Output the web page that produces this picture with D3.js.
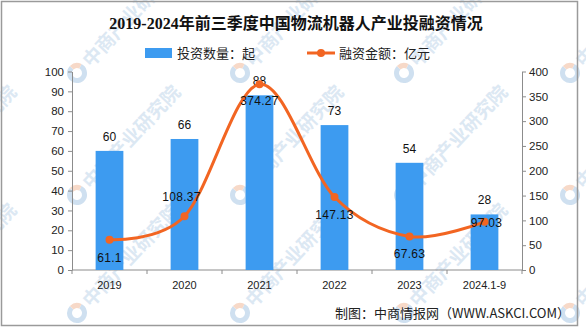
<!DOCTYPE html>
<html>
<head>
<meta charset="utf-8">
<script src="https://cdn.jsdelivr.net/npm/d3@7/dist/d3.min.js"></script>
<style>
  html, body { margin: 0; padding: 0; background: #fff; }
  svg { display: block; }
</style>
</head>
<body>
<svg id="chart" width="586" height="327"></svg>
<script>
// 2019-2024 logistics robot investment: deal counts (bars) and financing amount (line)
const categories = ["2019", "2020", "2021", "2022", "2023", "2024.1-9"];
const dealCounts = [60, 66, 88, 73, 54, 28];            // 投资数量：起
const financing = [61.1, 108.37, 374.27, 147.13, 67.63, 97.03]; // 融资金额：亿元
const leftTicks = [0, 10, 20, 30, 40, 50, 60, 70, 80, 90, 100];
const rightTicks = [0, 50, 100, 150, 200, 250, 300, 350, 400];

const titleText = "2019-2024年前三季度中国物流机器人产业投融资情况";
const barLegend = "投资数量：起";
const lineLegend = "融资金额：亿元";
const sourceText = "制图：中商情报网（WWW.ASKCI.COM）";
const watermarkText = "中商产业研究院";

const BAR_COLOR = "#3d9bf0";
const LINE_COLOR = "#f26522";
const AXIS_COLOR = "#8c8c8c";
const CJK = "'Noto Sans CJK SC', 'Noto Sans', sans-serif";
const NUM = "'Liberation Sans', Arial, sans-serif";

const svg = d3.select("#chart");
const plot = { left: 72, right: 522, top: 71.5, bottom: 270 };

// Faint diagonal watermark tiles
const wm = svg.append("g").attr("class", "watermark");
const wmXs = [-87, 77, 240, 404, 570];
const wmYs = [73, 195, 313];
wmXs.forEach(x => wmYs.forEach(y => {
  const g = wm.append("g").attr("transform", `translate(${x},${y})`);
  g.append("path")
    .attr("d", d3.arc()({ innerRadius: 5, outerRadius: 10, startAngle: Math.PI * 0.15, endAngle: Math.PI * 1.75 }))
    .attr("fill", "#cfe0f0");
  g.append("path")
    .attr("d", d3.arc()({ innerRadius: 5, outerRadius: 10, startAngle: -Math.PI * 0.25, endAngle: Math.PI * 0.15 }))
    .attr("fill", "#f7d9c8");
  g.append("text")
    .attr("transform", "rotate(-47) translate(13,7)")
    .attr("font-family", CJK)
    .attr("font-size", 19)
    .attr("font-weight", "bold")
    .attr("fill", "#dce8f3")
    .text(watermarkText);
}));

// Outer frame
svg.append("rect")
  .attr("x", 1.5).attr("y", 1.5)
  .attr("width", 576).attr("height", 324)
  .attr("fill", "none")
  .attr("stroke", "#9a9a9a")
  .attr("stroke-width", 1.5);

// Scales
const x = d3.scaleBand().domain(categories).range([plot.left, plot.right]).padding(0);
const yLeft = d3.scaleLinear().domain([0, 100]).range([plot.bottom, plot.top]);
const yRight = d3.scaleLinear().domain([0, 400]).range([plot.bottom, plot.top]);
const barW = x.bandwidth() * 0.37;
const cx = c => x(c) + x.bandwidth() / 2;

// Title
svg.append("text")
  .attr("x", 296).attr("y", 29)
  .attr("text-anchor", "middle")
  .attr("font-family", "'Liberation Serif', 'Noto Sans CJK SC', serif")
  .attr("font-size", 16)
  .attr("font-weight", "bold")
  .attr("fill", "#111")
  .text(titleText);

// Legend
const leg = svg.append("g").attr("font-family", CJK).attr("font-size", 13).attr("fill", "#222");
leg.append("rect").attr("x", 145).attr("y", 48).attr("width", 27).attr("height", 10).attr("fill", BAR_COLOR);
leg.append("text").attr("x", 177).attr("y", 57.5).text(barLegend);
leg.append("line").attr("x1", 307).attr("x2", 335).attr("y1", 53).attr("y2", 53)
  .attr("stroke", LINE_COLOR).attr("stroke-width", 3);
leg.append("circle").attr("cx", 321).attr("cy", 53).attr("r", 4).attr("fill", LINE_COLOR);
leg.append("text").attr("x", 339).attr("y", 57.5).text(lineLegend);

// Axes
function styleAxis(g) {
  g.selectAll("path, line").attr("stroke", AXIS_COLOR).attr("stroke-width", 1);
  g.selectAll("text").attr("font-family", NUM).attr("font-size", 11.5).attr("fill", "#222");
}
svg.append("g")
  .attr("transform", `translate(${plot.left},0)`)
  .call(d3.axisLeft(yLeft).tickValues(leftTicks).tickSize(4).tickSizeOuter(0).tickPadding(4))
  .call(styleAxis);
svg.append("g")
  .attr("transform", `translate(${plot.right},0)`)
  .call(d3.axisRight(yRight).tickValues(rightTicks).tickSize(4).tickSizeOuter(0).tickPadding(3))
  .call(styleAxis);

// Bottom axis with ticks at category boundaries
const xAxis = svg.append("g").attr("transform", `translate(0,${plot.bottom})`);
xAxis.append("line").attr("x1", plot.left).attr("x2", plot.right)
  .attr("stroke", AXIS_COLOR);
xAxis.selectAll("line.bound")
  .data(categories.concat([null]))
  .join("line")
  .attr("class", "bound")
  .attr("x1", (d, i) => plot.left + i * x.step())
  .attr("x2", (d, i) => plot.left + i * x.step())
  .attr("y1", 0).attr("y2", 4)
  .attr("stroke", AXIS_COLOR);
xAxis.selectAll("text")
  .data(categories)
  .join("text")
  .attr("x", d => cx(d))
  .attr("y", 19)
  .attr("text-anchor", "middle")
  .attr("font-family", NUM)
  .attr("font-size", 11)
  .attr("fill", "#222")
  .text(d => d);

// Bars
svg.append("g").selectAll("rect")
  .data(categories)
  .join("rect")
  .attr("x", d => cx(d) - barW / 2)
  .attr("y", (d, i) => yLeft(dealCounts[i]))
  .attr("width", barW)
  .attr("height", (d, i) => plot.bottom - yLeft(dealCounts[i]))
  .attr("fill", BAR_COLOR);

// Bar value labels
svg.append("g").selectAll("text")
  .data(categories)
  .join("text")
  .attr("x", d => cx(d))
  .attr("y", (d, i) => yLeft(dealCounts[i]) - 10)
  .attr("text-anchor", "middle")
  .attr("font-family", NUM)
  .attr("font-size", 12)
  .attr("fill", "#111")
  .text((d, i) => dealCounts[i]);

// Smoothed financing line
const pts = categories.map((c, i) => [cx(c), yRight(financing[i])]);
svg.append("path")
  .attr("d", d3.line().curve(d3.curveCatmullRom.alpha(0))(pts))
  .attr("fill", "none")
  .attr("stroke", LINE_COLOR)
  .attr("stroke-width", 3);
svg.append("g").selectAll("circle")
  .data(pts)
  .join("circle")
  .attr("cx", d => d[0]).attr("cy", d => d[1])
  .attr("r", 4)
  .attr("fill", LINE_COLOR);

// Line value labels (vertical offset from each point, tuned to avoid the curve)
const lineLabelDy = [18, -19, 17, 18, 18, 1];
const lineLabelDx = [0, -3, 0, 0, 0, 2];
svg.append("g").selectAll("text")
  .data(pts)
  .join("text")
  .attr("x", (d, i) => d[0] + lineLabelDx[i])
  .attr("y", (d, i) => d[1] + lineLabelDy[i] + 4)
  .attr("text-anchor", "middle")
  .attr("font-family", NUM)
  .attr("font-size", 12)
  .attr("letter-spacing", 0.3)
  .attr("fill", "#111")
  .text((d, i) => financing[i]);

// Source note
svg.append("text")
  .attr("x", 570).attr("y", 318)
  .attr("text-anchor", "end")
  .attr("font-family", CJK)
  .attr("font-size", 13)
  .attr("fill", "#222")
  .text(sourceText);
</script>
</body>
</html>
